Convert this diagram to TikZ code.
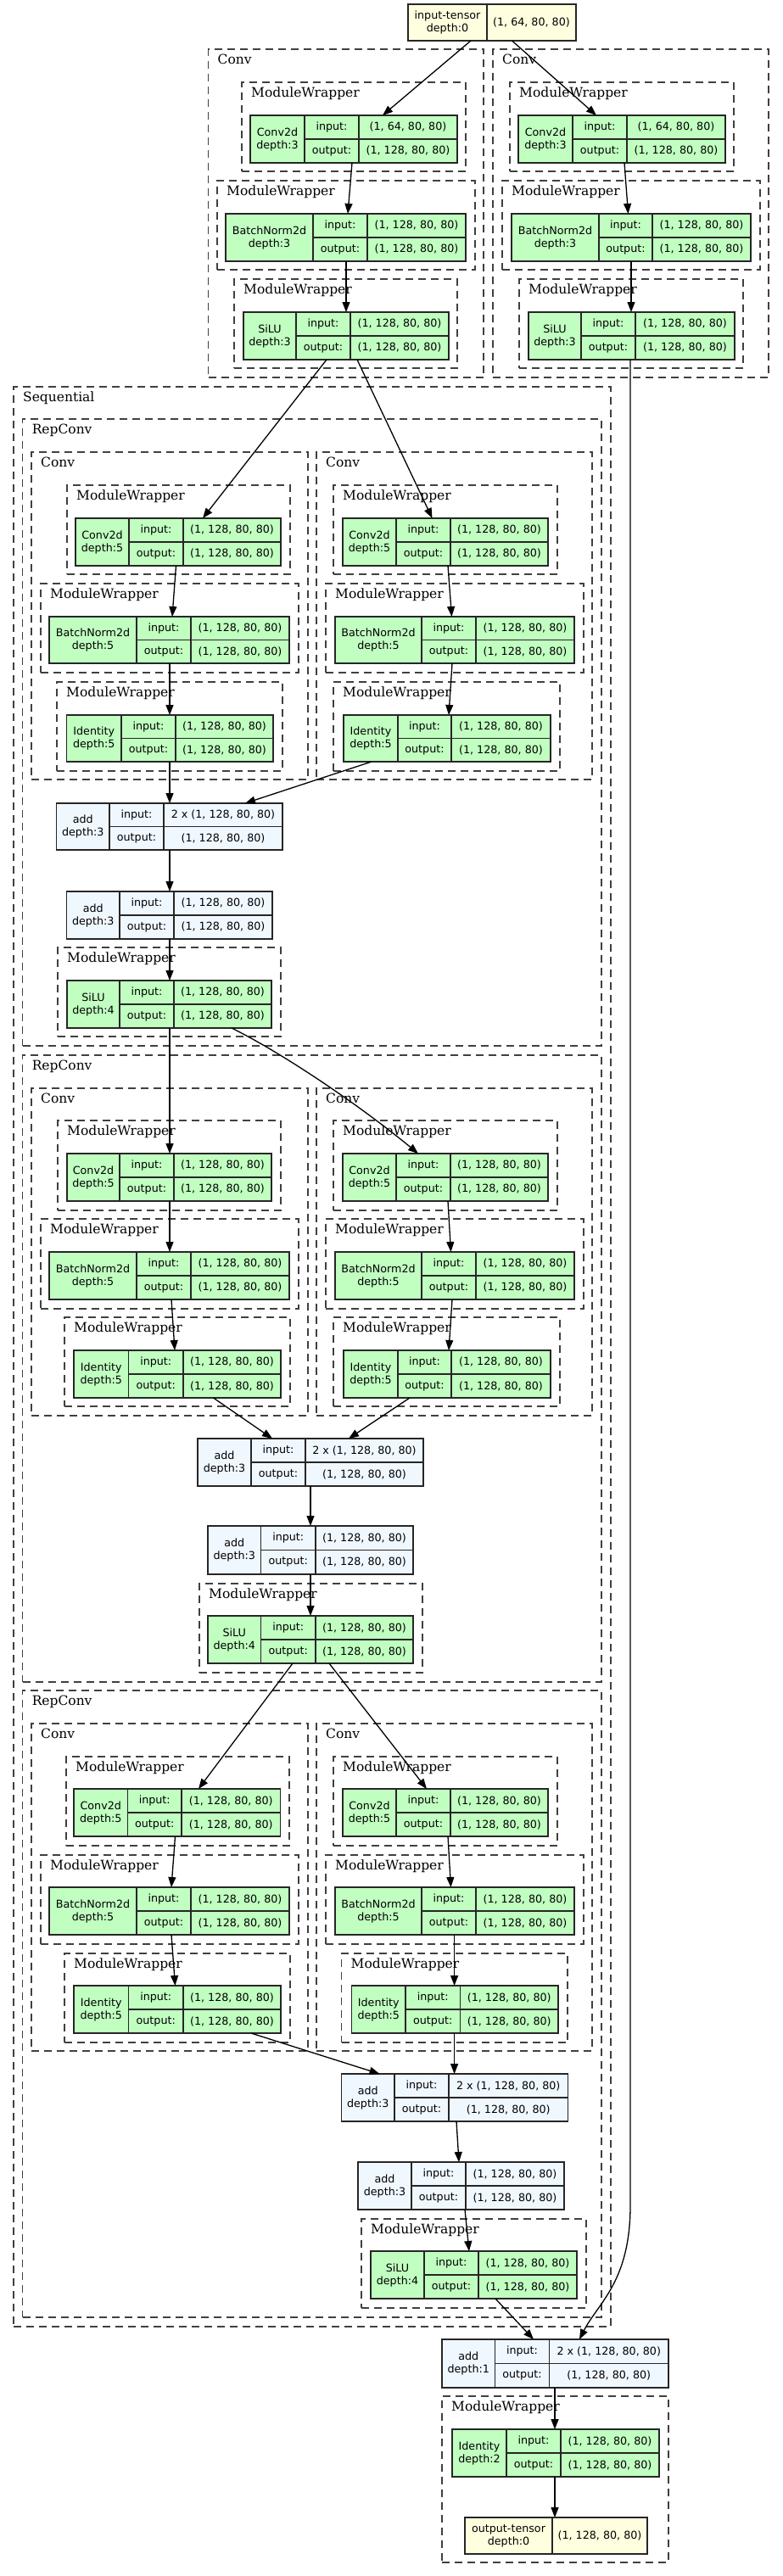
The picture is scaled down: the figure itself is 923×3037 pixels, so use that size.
\documentclass[tikz,border=0pt]{standalone}
\usepackage{fontspec}
\usetikzlibrary{arrows.meta}
\newfontfamily\nodefont{DejaVu Sans}
\newfontfamily\clusfont{DejaVu Serif}
\definecolor{gvgreen}{HTML}{C1FFC1}
\definecolor{gvblue}{HTML}{F0F8FF}
\definecolor{gvyellow}{HTML}{FFFFE0}
\tikzset{
  recbox/.style={draw=black!85, line width=1.3pt, inner sep=0pt, outer sep=0pt, anchor=north west},
  recline/.style={draw=black!85, line width=1.3pt},
  fgreen/.style={fill=gvgreen},
  fblue/.style={fill=gvblue},
  fyellow/.style={fill=gvyellow},
  celltext/.style={font=\nodefont\fontsize{12.7}{15}\selectfont, inner sep=0pt, align=center},
  cluster/.style={draw=black!75, line width=1.3pt, dash pattern=on 9pt off 6pt, inner sep=0pt, outer sep=0pt, anchor=north west},
  clabel/.style={font=\clusfont\fontsize{15.5}{18}\selectfont, inner sep=0pt, anchor=base west},
  edge/.style={line width=1.3pt, -{Triangle[length=12pt,width=9pt]}}
}
\newcommand\setio[2]{\def\iv{#1}\def\ov{#2}}
% name x1 xa xb x2 y1 y2 style label
\newcommand\rec[9]{%
  \node[recbox,#8,minimum width={(#5-#2)*1pt},minimum height={(#7-#6)*1pt}] (#1) at (#2,#6) {};
  \draw[recline] (#3,#6) -- (#3,#7) (#4,#6) -- (#4,#7) (#3,{(#6+#7)/2}) -- (#5,{(#6+#7)/2});
  \node[celltext] (#1-n) at ({(#2+#3)/2},{(#6+#7)/2}) {#9};
  \node[celltext] (#1-i) at ({(#3+#4)/2},{(3*#6+#7)/4}) {input:};
  \node[celltext] (#1-o) at ({(#3+#4)/2},{(#6+3*#7)/4}) {output:};
  \node[celltext] (#1-iv) at ({(#4+#5)/2},{(3*#6+#7)/4}) {\iv};
  \node[celltext] (#1-ov) at ({(#4+#5)/2},{(#6+3*#7)/4}) {\ov};
}
% name x1 xd x2 y1 y2 label value
\newcommand\tens[8]{%
  \node[recbox,fyellow,minimum width={(#4-#2)*1pt},minimum height={(#6-#5)*1pt}] (#1) at (#2,#5) {};
  \draw[recline] (#3,#5) -- (#3,#6);
  \node[celltext] (#1-n) at ({(#2+#3)/2},{(#5+#6)/2}) {#7};
  \node[celltext] (#1-v) at ({(#3+#4)/2},{(#5+#6)/2}) {#8};
}
% name x1 y1 x2 y2 label
\newcommand\clus[6]{%
  \node[cluster,minimum width={(#4-#2)*1pt},minimum height={(#5-#3)*1pt}] (#1) at (#2,#3) {};
  \node[clabel] (#1-l) at ({#2+11},{#3+17.7}) {#6};
}
\begin{document}
\begin{tikzpicture}[x=1pt,y=-1pt]
\fill[white] (0,0) rectangle (923,3037);
\useasboundingbox (0,0) rectangle (923,3037);

% ---------- clusters ----------
\clus{kTL}{245.5}{58}{570}{445}{Conv}
\clus{kTR}{581}{58}{906}{445}{Conv}
\clus{kTL1}{285}{97}{549}{202}{ModuleWrapper}
\clus{kTL2}{256}{213}{560}{318}{ModuleWrapper}
\clus{kTL3}{276}{329}{539}{434}{ModuleWrapper}
\clus{kTR1}{601}{97}{865}{202}{ModuleWrapper}
\clus{kTR2}{592}{213}{896}{318}{ModuleWrapper}
\clus{kTR3}{612}{329}{876}{434}{ModuleWrapper}

\clus{kSeq}{16}{456}{720}{2743}{Sequential}

\clus{kA}{26.6}{494}{709}{1233}{RepConv}
\clus{kAL}{37}{533}{363}{919}{Conv}
\clus{kAR}{373}{533}{698}{919}{Conv}
\clus{kAL1}{79}{572}{342}{677}{ModuleWrapper}
\clus{kAL2}{48}{688}{352}{793}{ModuleWrapper}
\clus{kAL3}{67}{804}{333}{909}{ModuleWrapper}
\clus{kAR1}{393}{572}{657}{677}{ModuleWrapper}
\clus{kAR2}{384}{688}{688}{793}{ModuleWrapper}
\clus{kAR3}{393}{804}{660}{909}{ModuleWrapper}
\clus{kAS}{68}{1117}{331}{1222}{ModuleWrapper}

\clus{kB}{26.6}{1244}{709}{1983}{RepConv}
\clus{kBL}{37}{1283}{363}{1669}{Conv}
\clus{kBR}{373}{1283}{698}{1669}{Conv}
\clus{kBL1}{68}{1321}{331}{1427}{ModuleWrapper}
\clus{kBL2}{48}{1437}{352}{1543}{ModuleWrapper}
\clus{kBL3}{76}{1553}{342}{1658}{ModuleWrapper}
\clus{kBR1}{393}{1321}{657}{1427}{ModuleWrapper}
\clus{kBR2}{384}{1437}{688}{1543}{ModuleWrapper}
\clus{kBR3}{393}{1553}{660}{1658}{ModuleWrapper}
\clus{kBS}{235}{1867}{498}{1972}{ModuleWrapper}

\clus{kC}{26.6}{1993}{709}{2732}{RepConv}
\clus{kCL}{37}{2032}{363}{2418}{Conv}
\clus{kCR}{373}{2032}{698}{2418}{Conv}
\clus{kCL1}{78}{2071}{341}{2176}{ModuleWrapper}
\clus{kCL2}{48}{2187}{352}{2292}{ModuleWrapper}
\clus{kCL3}{76}{2303}{342}{2408}{ModuleWrapper}
\clus{kCR1}{393}{2071}{657}{2176}{ModuleWrapper}
\clus{kCR2}{384}{2187}{688}{2292}{ModuleWrapper}
\clus{kCR3}{402.5}{2303}{669}{2408}{ModuleWrapper}
\clus{kCS}{426}{2616}{691}{2721}{ModuleWrapper}

\clus{kF}{521}{2825}{788}{3021}{ModuleWrapper}

% ---------- records ----------
\tens{inp}{481}{574}{679}{5}{48}{input-tensor\\depth:0}{(1, 64, 80, 80)}

\setio{(1, 64, 80, 80)}{(1, 128, 80, 80)}
\rec{tc2dL}{295}{359}{423}{539}{136}{192}{fgreen}{Conv2d\\depth:3}
\rec{tc2dR}{611}{675}{739}{855}{136}{192}{fgreen}{Conv2d\\depth:3}
\setio{(1, 128, 80, 80)}{(1, 128, 80, 80)}
\rec{tbnL}{266}{369}{433}{549}{252}{308}{fgreen}{BatchNorm2d\\depth:3}
\rec{tsiL}{287}{349}{413}{529}{368}{424}{fgreen}{SiLU\\depth:3}
\rec{tbnR}{603}{706}{769}{885}{252}{308}{fgreen}{BatchNorm2d\\depth:3}
\rec{tsiR}{623}{685}{749}{866}{368}{424}{fgreen}{SiLU\\depth:3}

% RepConv 1
\rec{aC2dL}{89}{152}{216}{331}{611}{667}{fgreen}{Conv2d\\depth:5}
\rec{aBnL}{58}{161}{225}{341}{727}{782}{fgreen}{BatchNorm2d\\depth:5}
\rec{aIdL}{78.5}{143}{207}{322}{843}{898}{fgreen}{Identity\\depth:5}
\rec{aC2dR}{404}{467}{531}{646}{611}{667}{fgreen}{Conv2d\\depth:5}
\rec{aBnR}{395}{497}{561}{677}{727}{782}{fgreen}{BatchNorm2d\\depth:5}
\rec{aIdR}{405}{469}{532}{649}{843}{898}{fgreen}{Identity\\depth:5}
\setio{2 x (1, 128, 80, 80)}{(1, 128, 80, 80)}
\rec{aAdd1}{66.5}{129}{193}{333}{947}{1002}{fblue}{add\\depth:3}
\setio{(1, 128, 80, 80)}{(1, 128, 80, 80)}
\rec{aAdd2}{78.5}{141}{205}{321}{1051}{1107}{fblue}{add\\depth:3}
\rec{aSi}{79}{141}{205}{320}{1156}{1212}{fgreen}{SiLU\\depth:4}

% RepConv 2
\rec{bC2dL}{79}{141}{205}{320}{1360}{1416}{fgreen}{Conv2d\\depth:5}
\rec{bBnL}{58}{161}{225}{341}{1476}{1532}{fgreen}{BatchNorm2d\\depth:5}
\rec{bIdL}{87}{151.5}{216}{331}{1592}{1648}{fgreen}{Identity\\depth:5}
\rec{bC2dR}{404}{467}{531}{646}{1360}{1416}{fgreen}{Conv2d\\depth:5}
\rec{bBnR}{395}{497}{561}{677}{1476}{1532}{fgreen}{BatchNorm2d\\depth:5}
\rec{bIdR}{405}{469}{532}{649}{1592}{1648}{fgreen}{Identity\\depth:5}
\setio{2 x (1, 128, 80, 80)}{(1, 128, 80, 80)}
\rec{bAdd1}{233}{296}{360}{499}{1696}{1752}{fblue}{add\\depth:3}
\setio{(1, 128, 80, 80)}{(1, 128, 80, 80)}
\rec{bAdd2}{245}{307.5}{372}{487}{1799}{1856}{fblue}{add\\depth:3}
\rec{bSi}{245}{307.5}{372}{487}{1905}{1961}{fgreen}{SiLU\\depth:4}

% RepConv 3
\rec{cC2dL}{87}{150.5}{214}{330.5}{2109}{2165}{fgreen}{Conv2d\\depth:5}
\rec{cBnL}{58}{161}{225}{341}{2225}{2281}{fgreen}{BatchNorm2d\\depth:5}
\rec{cIdL}{87}{151.5}{216}{331}{2341}{2397}{fgreen}{Identity\\depth:5}
\rec{cC2dR}{404}{467}{531}{646}{2109}{2165}{fgreen}{Conv2d\\depth:5}
\rec{cBnR}{395}{497}{561}{677}{2225}{2281}{fgreen}{BatchNorm2d\\depth:5}
\rec{cIdR}{414.5}{478}{542.5}{658}{2341}{2397}{fgreen}{Identity\\depth:5}
\setio{2 x (1, 128, 80, 80)}{(1, 128, 80, 80)}
\rec{cAdd1}{402.5}{465}{529}{669.5}{2445}{2501}{fblue}{add\\depth:3}
\setio{(1, 128, 80, 80)}{(1, 128, 80, 80)}
\rec{cAdd2}{422}{485}{549}{665}{2549}{2605}{fblue}{add\\depth:3}
\rec{cSi}{437}{500}{564}{680}{2654}{2710}{fgreen}{SiLU\\depth:4}

% final
\setio{2 x (1, 128, 80, 80)}{(1, 128, 80, 80)}
\rec{fAdd}{521}{583.5}{647.5}{788}{2758}{2815}{fblue}{add\\depth:1}
\setio{(1, 128, 80, 80)}{(1, 128, 80, 80)}
\rec{fId}{533}{597}{661}{777}{2864}{2920}{fgreen}{Identity\\depth:2}
\tens{out}{548}{651}{763}{2968}{3011}{output-tensor\\depth:0}{(1, 128, 80, 80)}

% ---------- edges ----------
\draw[edge] (inp.south -| 555,0) -- (tc2dL.north -| 451,0);
\draw[edge] (inp.south -| 603.5,0) -- (tc2dR.north -| 703,0);
\draw[edge] (tc2dL.south -| 415,0) -- (tbnL.north -| 410,0);
\draw[edge] (tbnL.south -| 408,0) -- (tsiL.north -| 408,0);
\draw[edge] (tc2dR.south -| 736,0) -- (tbnR.north -| 740.5,0);
\draw[edge] (tbnR.south -| 744,0) -- (tsiR.north -| 744,0);
\draw[edge] (tsiL.south -| 385,0) -- (aC2dL.north -| 239,0);
\draw[edge] (tsiL.south -| 421,0) -- (aC2dR.north -| 509.5,0);
\draw[edge] (tsiR.south -| 743,0) -- (743,2600) .. controls (743,2690) and (705,2715) .. (fAdd.north -| 683,0);

\draw[edge] (aC2dL.south -| 207.5,0) -- (aBnL.north -| 203,0);
\draw[edge] (aBnL.south -| 200,0) -- (aIdL.north -| 200,0);
\draw[edge] (aC2dR.south -| 528,0) -- (aBnR.north -| 532.5,0);
\draw[edge] (aBnR.south -| 533,0) -- (aIdR.north -| 529,0);
\draw[edge] (aIdL.south -| 200,0) -- (aAdd1.north -| 200,0);
\draw[edge] (aIdR.south -| 438,0) -- (aAdd1.north -| 289,0);
\draw[edge] (aAdd1.south -| 200,0) -- (aAdd2.north -| 200,0);
\draw[edge] (aAdd2.south -| 200,0) -- (aSi.north -| 200,0);
\draw[edge] (aSi.south -| 200,0) -- (bC2dL.north -| 200,0);
\draw[edge] (aSi.south -| 273,0) .. controls (330,1240) and (420,1300) .. (bC2dR.north -| 493,0);

\draw[edge] (bC2dL.south -| 200,0) -- (bBnL.north -| 200,0);
\draw[edge] (bBnL.south -| 202,0) -- (bIdL.north -| 206,0);
\draw[edge] (bC2dR.south -| 528,0) -- (bBnR.north -| 531.5,0);
\draw[edge] (bBnR.south -| 533,0) -- (bIdR.north -| 529,0);
\draw[edge] (bIdL.south -| 251.5,0) -- (bAdd1.north -| 321,0);
\draw[edge] (bIdR.south -| 483,0) -- (bAdd1.north -| 411,0);
\draw[edge] (bAdd1.south -| 366,0) -- (bAdd2.north -| 366,0);
\draw[edge] (bAdd2.south -| 366,0) -- (bSi.north -| 366,0);
\draw[edge] (bSi.south -| 345,0) -- (cC2dL.north -| 234,0);
\draw[edge] (bSi.south -| 388,0) -- (cC2dR.north -| 503,0);

\draw[edge] (cC2dL.south -| 206.5,0) -- (cBnL.north -| 202,0);
\draw[edge] (cBnL.south -| 202,0) -- (cIdL.north -| 206.5,0);
\draw[edge] (cC2dR.south -| 528,0) -- (cBnR.north -| 531.5,0);
\draw[edge] (cBnR.south -| 535.6,0) -- (cIdR.north -| 535.6,0);
\draw[edge] (cIdL.south -| 296,0) -- (cAdd1.north -| 447.5,0);
\draw[edge] (cIdR.south -| 535.6,0) -- (cAdd1.north -| 535.6,0);
\draw[edge] (cAdd1.south -| 538,0) -- (cAdd2.north -| 541,0);
\draw[edge] (cAdd2.south -| 548,0) -- (cSi.north -| 553,0);
\draw[edge] (cSi.south -| 584,0) -- (fAdd.north -| 629,0);
\draw[edge] (fAdd.south -| 654,0) -- (fId.north -| 654,0);
\draw[edge] (fId.south -| 654,0) -- (out.north -| 654,0);
\end{tikzpicture}
\end{document}
